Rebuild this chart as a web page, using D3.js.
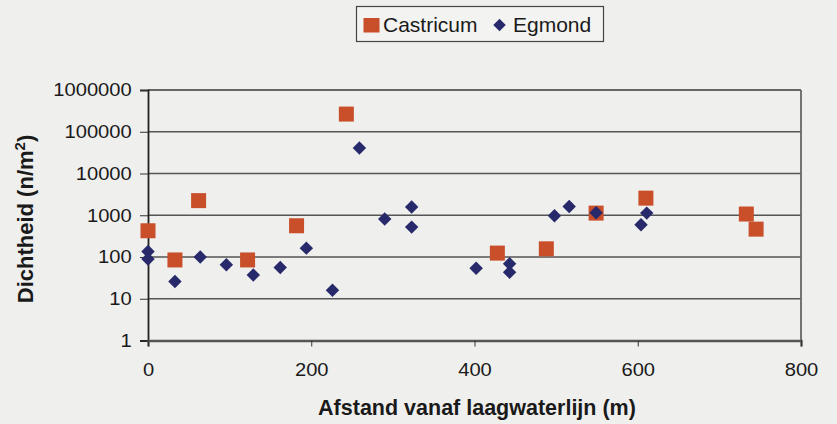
<!DOCTYPE html>
<html><head><meta charset="utf-8">
<script src="https://cdn.jsdelivr.net/npm/d3@7"></script>
<style>body{margin:0;background:#efefed;}svg{display:block;font-family:"Liberation Sans",Arial,sans-serif;}</style>
</head><body>
<svg id="c" width="837" height="424"></svg>
<script>
const castricumX = [0, 33, 62, 122, 182, 243, 428, 488, 549, 610, 733, 745];
const castricumY = [425, 85, 2240, 85, 560, 265000, 124, 157, 1125, 2570, 1070, 465];
const egmondX = [0, 0, 33, 64, 96, 129, 162, 194, 226, 259, 290, 323, 323, 402, 443, 443, 498, 516, 549, 604, 611];
const egmondY = [135, 90, 26, 100, 65, 37, 56, 163, 16, 40700, 810, 1570, 520, 54, 69, 43, 970, 1620, 1150, 590, 1125];
const xTicks = [0, 200, 400, 600, 800];
const yTicks = [1, 10, 100, 1000, 10000, 100000, 1000000];
const seriesNames = ["Castricum", "Egmond"];

const FONT = "Liberation Sans, Arial, sans-serif";
const svg = d3.select("#c");
const x = d3.scaleLinear().domain([0, 800]).range([148, 801]);
const y = d3.scaleLog().domain([1, 1000000]).range([340.5, 90]);

// grid
svg.append("g").selectAll("line").data(yTicks.slice(1)).join("line")
  .attr("x1",148).attr("x2",801).attr("y1",d=>y(d)).attr("y2",d=>y(d))
  .attr("stroke","#555").attr("stroke-width",1.3);
// frame top/right
svg.append("line").attr("x1",148).attr("x2",801).attr("y1",90).attr("y2",90).attr("stroke","#666").attr("stroke-width",2.2);
svg.append("line").attr("x1",801).attr("x2",801).attr("y1",90).attr("y2",340.5).attr("stroke","#666").attr("stroke-width",1.8);

const yAxis = svg.append("g").attr("transform","translate(148,0)")
  .call(d3.axisLeft(y).tickValues(yTicks).tickFormat(d3.format("d")).tickSize(8).tickPadding(6.5));
const xAxis = svg.append("g").attr("transform","translate(0,340.5)")
  .call(d3.axisBottom(x).tickValues(xTicks).tickSize(6).tickPadding(16.7));
[yAxis, xAxis].forEach(a=>{
  a.selectAll(".tick line").attr("stroke","#333");
  a.selectAll("text").attr("font-size",18).attr("fill","#1a1a1a").attr("font-family",FONT);
});
yAxis.select(".domain").attr("stroke","#222").attr("stroke-width",1.8);
xAxis.select(".domain").attr("stroke","#555").attr("stroke-width",2.4);
yAxis.selectAll(".tick text").attr("transform","scale(1.12,1)");
xAxis.selectAll(".tick text").attr("transform","scale(1.12,1)");

// squares
const sq = 15;
svg.append("g").selectAll("rect").data(castricumX.map((d,i)=>[d,castricumY[i]])).join("rect")
  .attr("x",d=>x(d[0])-sq/2).attr("y",d=>y(d[1])-sq/2).attr("width",sq).attr("height",sq)
  .attr("fill","#c94f2a");
// diamonds
const dsym = d3.symbol().type(d3.symbolDiamond2).size(115);
svg.append("g").selectAll("path").data(egmondX.map((d,i)=>[d,egmondY[i]])).join("path")
  .attr("d",dsym).attr("transform",d=>`translate(${x(d[0])},${y(d[1])})`)
  .attr("fill","#27296b");

// axis titles
svg.append("text").attr("x",477).attr("y",415).attr("text-anchor","middle").attr("font-family",FONT)
  .attr("font-size",21.5).attr("font-weight","bold").attr("fill","#1a1a1a").text("Afstand vanaf laagwaterlijn (m)");
const yt = svg.append("text").attr("transform","translate(33,219) rotate(-90)").attr("text-anchor","middle").attr("font-family",FONT)
  .attr("font-size",22).attr("font-weight","bold").attr("fill","#1a1a1a");
yt.append("tspan").text("Dichtheid (n/m");
yt.append("tspan").attr("font-size",15).attr("dy",-8).text("2");
yt.append("tspan").attr("dy",8).text(")");

// legend
const lg = svg.append("g");
lg.append("rect").attr("x",356.5).attr("y",6.5).attr("width",247).attr("height",35).attr("fill","#f3f3f1").attr("stroke","#444").attr("stroke-width",1.2);
lg.append("rect").attr("x",363.5).attr("y",18).attr("width",16).attr("height",14.5).attr("fill","#c94f2a");
lg.append("text").attr("x",383).attr("y",31.5).attr("font-family",FONT).attr("font-size",21).attr("fill","#1a1a1a").text(seriesNames[0]);
lg.append("path").attr("d",d3.symbol().type(d3.symbolDiamond2).size(100)).attr("transform","translate(499.5,25)").attr("fill","#27296b");
lg.append("text").attr("x",513).attr("y",31.5).attr("font-family",FONT).attr("font-size",21).attr("fill","#1a1a1a").text(seriesNames[1]);
</script>
</body></html>
